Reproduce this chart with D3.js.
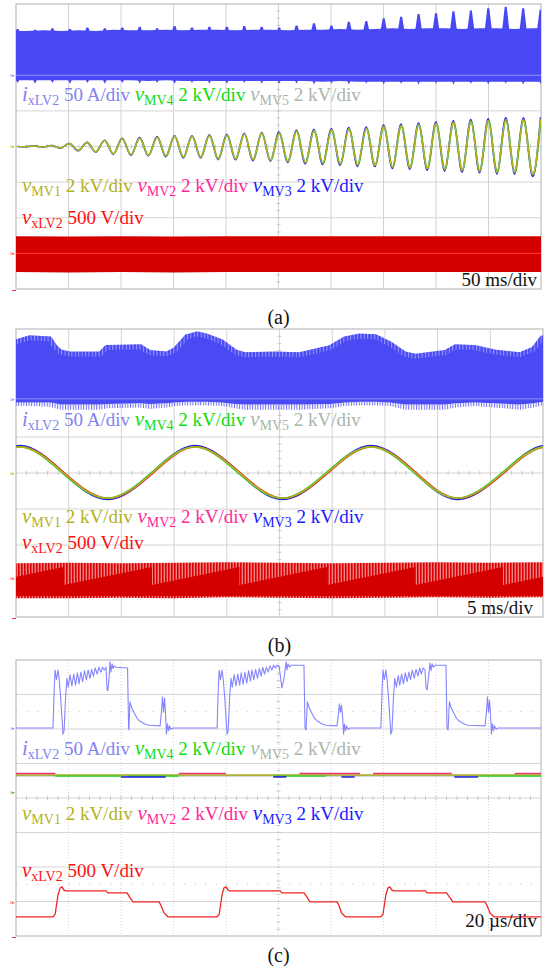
<!DOCTYPE html>
<html>
<head>
<meta charset="utf-8">
<script src="https://d3js.org/d3.v7.min.js"></script>
<style>
  body { margin: 0; background: #fff; }
  svg text { font-family: "Liberation Serif", "Times New Roman", serif; }
</style>
</head>
<body>
<svg id="scope" width="549" height="973"></svg>
<script>

// (a) 50 ms/div : peaks and troughs of the growing 60 Hz oscillation (ms, kV)
const aPeakMs = [1.5, 18.1, 34.7, 51.4, 68.0, 84.6, 101.2, 117.8, 134.4, 151.0,
  167.6, 184.2, 200.8, 217.4, 234.0, 250.6, 267.2, 283.8, 300.4, 317.0,
  333.6, 350.2, 366.8, 383.4, 400.0, 416.6, 433.2, 449.8, 466.4, 483.0, 499.6];
const aTroughMs = [9.8, 26.4, 43.1, 59.7, 76.3, 92.9, 109.5, 126.1, 142.7, 159.3,
  175.9, 192.5, 209.1, 225.7, 242.3, 258.9, 275.5, 292.1, 308.7, 325.3,
  341.9, 358.5, 375.1, 391.7, 408.3, 424.9, 441.5, 458.1, 474.7, 491.3];
const aPeakKV = [0.00, 0.03, 0.05, 0.15, 0.22, 0.33, 0.43, 0.47, 0.52, 0.57,
  0.57, 0.62, 0.64, 0.70, 0.74, 0.76, 0.86, 0.90, 0.94, 1.00,
  1.03, 1.13, 1.18, 1.24, 1.31, 1.36, 1.42, 1.46, 1.52, 1.50, 1.54];
const aTroughKV = [-0.01, -0.03, -0.08, -0.22, -0.29, -0.40, -0.46, -0.49, -0.54, -0.60,
  -0.60, -0.69, -0.70, -0.75, -0.78, -0.84, -0.91, -0.95, -0.99, -1.05,
  -1.06, -1.16, -1.20, -1.25, -1.29, -1.35, -1.39, -1.45, -1.45, -1.50];
// i_xLV2 envelope: spikes at the peaks, band edge at the troughs (A)
const aSpikeTopA = [65, 64, 66, 65, 67, 66, 67, 68, 66, 69,
  67, 68, 68, 69, 68, 67, 70, 73, 70, 75,
  76, 80, 82, 86, 87, 90, 91, 94, 96, 94, 92];
const aEdgeTopA = [62, 63, 62, 63, 62, 64, 63, 63, 64, 63,
  64, 64, 63, 64, 64, 63, 64, 64, 65, 64,
  65, 66, 65, 66, 66, 65, 66, 66, 65, 66];
const aSpikeBotA = [-11, -12, -11, -12, -11, -12, -11, -12, -11, -12,
  -11, -12, -12, -11, -12, -12, -12, -13, -12, -13,
  -12, -13, -12, -13, -12, -13, -12, -13, -12, -13, -12];
const aEdgeBotA = [-7, -7, -7, -7, -7, -7, -7, -8, -7, -8,
  -8, -8, -8, -8, -8, -8, -8, -9, -8, -9,
  -9, -9, -9, -9, -9, -9, -9, -9, -9, -9];
// v_xLV2 envelope (V)
const aRedMs = [0, 50, 100, 150, 200, 250, 300, 350, 400, 450, 500];
const aRedTopV = [239, 236, 239, 236, 239, 242, 239, 242, 239, 242, 239];
const aRedBotV = [-263, -267, -263, -267, -263, -260, -263, -260, -263, -260, -263];

// (b) 5 ms/div
const bBandMs = [0, 1.3, 3.2, 3.7, 4.2, 5.1, 8.0, 8.6, 11.8, 12.7,
  14.3, 15.1, 16.2, 17.2, 18.1, 19.5, 20.8, 21.7, 24.6, 26.9,
  29.8, 31.2, 32.6, 34.1, 35.5, 36.9, 37.9, 40.7, 41.7, 43.5,
  45.4, 47.8, 49.1, 50];
const bBandTopA = [82, 87.5, 86, 75, 68, 65, 65, 74, 75, 67,
  65, 71, 89, 93, 90, 82, 68, 64, 65, 64,
  74, 86, 90, 89, 79, 65, 62, 67, 75, 74,
  68, 64, 72, 89];
const bBandBotA = [-5, -5, -5, -6, -8, -8, -8, -7, -6, -7,
  -6, -5, -4, -4, -4, -5, -7, -8, -8, -8,
  -7, -5, -4, -4, -5, -8, -8, -8, -6, -5,
  -6, -8, -6, -4];
const bSpikeBotA = [-10, -10, -11, -13, -15, -15, -15, -13, -12, -14,
  -12, -10, -9, -9, -9, -10, -13, -15, -15, -15,
  -13, -10, -9, -9, -10, -15, -15, -15, -12, -10,
  -12, -15, -12, -9];
const bSineMs = [-3.8, 0.4, 4.5, 8.7, 12.9, 17.0, 21.2, 25.3, 29.5, 33.7, 37.9, 41.9, 46.2, 50.3, 54.5];
const bSineKV = [0, 1.45, 0, -1.40, 0, 1.45, 0, -1.40, 0, 1.45, 0, -1.40, 0, 1.45, 0];
const bRedMs = [0, 5, 10, 15, 20, 25, 30, 35, 40, 45, 50];
const bRedTopV = [208, 215, 208, 215, 222, 215, 208, 215, 222, 215, 222];
const bRedBotV = [-278, -278, -271, -278, -264, -271, -278, -271, -264, -271, -264];
const bCoreMs = [0, 4.5, 4.5, 12.9, 12.9, 21.2, 21.2, 29.5, 29.5, 37.9, 37.9, 46.2, 46.2, 50];
const bCoreTopV = [18, 153, -97, 153, -97, 153, -97, 153, -97, 153, -97, 153, -97, 18];
const bCoreBotV = [-250, -250, -250, -250, -250, -250, -250, -250, -250, -250, -250, -250, -250, -250];

// (c) 20 us/div : i_xLV2 (us, A)
const cCurrent = [[0,0],[14.1,0],[14.6,60],[14.9,84],[15.4,70],[16.0,84],[16.4,72],[17.0,45],[17.9,-9],[18.3,-5],[18.9,45],[19.4,72],
  [19.9,59],[20.6,77],[21.3,61],[22.0,78],[22.7,62],[23.4,80],[24.0,64],[24.7,81],[25.4,67],[26.1,83],[26.8,70],[27.5,84],[28.2,72],[28.8,85],[29.5,75],[30.2,87],[30.9,78],[31.6,88],[32.3,81],[33.0,88],[33.6,84],[34.3,88],
  [34.7,55],[35.0,54],[35.4,70],[35.8,96],[36.2,81],[36.6,93],[37.0,86],[37.3,90],[38.1,88],[42.5,87],
  [42.9,0],[43.0,-3],[43.4,38],[44.0,30],[45.0,22],[46.1,14],[47.2,10],[48.8,6],[50.7,4],[54.9,3],
  [55.4,23],[55.8,45],[56.2,23],[56.6,43],[57.0,19],[57.3,-9],[57.7,6],[58.1,-4],[58.5,3],[59.0,-2],[59.8,0],
  [76.6,0],[77.1,60],[77.4,84],[77.9,70],[78.5,84],[78.9,72],[79.5,45],[80.4,-9],[80.8,-5],[81.4,45],[81.9,72],
  [82.4,59],[83.1,77],[83.8,61],[84.5,78],[85.2,62],[85.8,80],[86.5,63],[87.2,81],[87.9,65],[88.6,83],[89.3,68],[89.9,84],[90.6,70],[91.3,85],[92.0,72],[92.7,86],[93.4,75],[94.0,88],[94.7,78],[95.4,88],[96.1,81],[96.8,90],[97.5,84],[98.1,91],[98.8,87],[99.5,91],[100.2,90],
  [101.3,58],[102.1,72],[102.9,96],[103.2,84],[103.6,93],[104.2,88],[104.8,91],[109.7,91],
  [110.1,0],[110.5,-3],[111.0,38],[111.6,30],[112.6,22],[113.7,14],[114.9,10],[116.4,6],[118.1,4],[122.3,3],
  [122.9,23],[123.2,35],[123.6,23],[124.0,33],[124.4,17],[124.8,-9],[125.1,6],[125.5,-4],[125.9,3],[126.5,-2],[127.2,0],
  [139.0,0],[139.5,60],[139.8,84],[140.3,70],[140.9,84],[141.3,72],[141.9,45],[142.8,-9],[143.2,-5],[143.8,45],[144.3,72],
  [144.9,59],[145.6,76],[146.2,62],[146.9,78],[147.6,64],[148.3,80],[149.0,67],[149.7,81],[150.3,70],[151.0,84],[151.7,72],[152.4,85],[153.1,75],[153.8,87],[154.4,78],[155.1,87],[155.8,84],
  [156.2,58],[156.6,55],[157.1,72],[157.7,94],[158.1,83],[158.5,93],[159.0,88],[159.6,91],[163.8,91],
  [164.2,0],[164.6,-3],[165.1,38],[165.7,30],[166.7,22],[167.8,14],[168.9,10],[170.5,6],[172.2,4],[178.7,3],
  [179.2,23],[179.6,45],[180.0,23],[180.4,40],[180.8,17],[181.1,-9],[181.5,6],[181.9,-4],[182.3,3],[182.9,-2],[183.6,0],[200,0]];
// v_xLV2 (us, V)
const cVoltLV = [[0,-217],[14.1,-217],[14.9,-180],[16.0,100],[16.8,203],[17.5,217],[18.3,170],[19.0,159],[34.3,159],[35.0,130],[42.3,130],[43.4,60],[44.6,0],[54.5,0],[55.2,-50],[56.4,-160],[57.9,-217],
  [76.6,-217],[77.4,-180],[78.5,100],[79.2,203],[80.0,217],[80.8,170],[81.5,159],[100.6,159],[101.3,130],[109.7,130],[111.0,60],[112.0,0],[122.3,0],[123.0,-50],[124.0,-160],[125.5,-217],
  [139.0,-217],[139.8,-180],[140.9,100],[141.7,203],[142.4,217],[143.2,170],[144.0,159],[156.0,159],[156.6,130],[164.0,130],[165.3,60],[166.4,0],[178.7,0],[179.4,-50],[180.6,-160],[182.0,-217],[200,-217]];
// MV voltages: [start us, end us, kV]
const cMv1 = [[0, 200, 0.99]];
const cMv5 = [[0, 200, 0.96]];
const cMv2 = [[0, 15, 1.08], [62, 80, 1.08], [108, 131, 1.08], [136, 166, 1.08], [190, 200, 1.08]];
const cMv4 = [[15, 40, 0.93], [43, 62, 0.93], [98, 118, 0.93], [176, 200, 0.93]];
const cMv3 = [[40, 57, 0.88], [98, 103, 0.88], [124, 129, 0.88], [167, 176, 0.88]];

// legend rows: [symbol, subscript, scale]
const row1 = [["i", "xLV2", "50 A/div"], ["v", "MV4", "2 kV/div"], ["v", "MV5", "2 kV/div"]];
const row2 = [["v", "MV1", "2 kV/div"], ["v", "MV2", "2 kV/div"], ["v", "MV3", "2 kV/div"]];
const row3 = [["v", "xLV2", "500 V/div"]];

// ---------------- layout / style ----------------
const colors = { xLV2i: "#8282f0", MV4: "#10dc10", MV5: "#a8b6a8", MV1: "#b2b21e", MV2: "#ff2896", MV3: "#1a1aff", xLV2v: "#ff1010" };

const panels = {
  a: { x0: 16, x1: 541, y0: 4, y1: 289, tDiv: 50, tLabel: "50 ms/div", tx: 537, ty: 286, cap: "(a)", capY: 324, rows: [101, 192, 224] },
  b: { x0: 16, x1: 543, y0: 329, y1: 617, tDiv: 5, tLabel: "5 ms/div", tx: 533, ty: 614, cap: "(b)", capY: 652, rows: [426, 523, 549] },
  c: { x0: 16, x1: 541, y0: 660, y1: 936, tDiv: 20, tLabel: "20 µs/div", tx: 537, ty: 927, cap: "(c)", capY: 962, rows: [755, 820, 877], dash: "1,2" }
};

const svg = d3.select("#scope");
const defs = svg.append("defs");

const redHatch = defs.append("pattern").attr("id", "redHatch").attr("patternUnits", "userSpaceOnUse")
  .attr("width", 3).attr("height", 6);
redHatch.append("rect").attr("width", 3).attr("height", 6).attr("fill", "#f08080");
redHatch.append("rect").attr("width", 1.6).attr("height", 6).attr("fill", "#d80000");

const blueHatch = defs.append("pattern").attr("id", "blueHatch").attr("patternUnits", "userSpaceOnUse")
  .attr("width", 2.6).attr("height", 6);
blueHatch.append("rect").attr("width", 1).attr("height", 6).attr("fill", "#6a6af8");

const lightHatch = defs.append("pattern").attr("id", "lightHatch").attr("patternUnits", "userSpaceOnUse")
  .attr("width", 3.4).attr("height", 8);
lightHatch.append("rect").attr("width", 3.4).attr("height", 8).attr("fill", "#4a4af4");
lightHatch.append("rect").attr("width", 1).attr("height", 8).attr("fill", "#9a9aff");

// channel scale: value 0 sits offsetDiv divisions above the screen centre
function chan(p, perDiv, offsetDiv) {
  const divH = (p.y1 - p.y0) / 8, mid = (p.y0 + p.y1) / 2, y0 = mid - offsetDiv * divH;
  return d3.scaleLinear().domain([0, perDiv]).range([y0, y0 - divH]);
}

function frame(p, key) {
  const g = svg.append("g");
  const gx = d3.scaleLinear().domain([0, 10]).range([p.x0, p.x1]);
  const gy = d3.scaleLinear().domain([-4, 4]).range([p.y1, p.y0]);
  g.selectAll("line.v").data(d3.range(1, 10)).join("line")
    .attr("x1", d => gx(d)).attr("x2", d => gx(d)).attr("y1", p.y0).attr("y2", p.y1)
    .attr("stroke", "#d4d4d4").attr("stroke-width", 1).attr("stroke-dasharray", p.dash || null);
  g.selectAll("line.h").data(d3.range(-3, 4)).join("line")
    .attr("x1", p.x0).attr("x2", p.x1).attr("y1", d => gy(d)).attr("y2", d => gy(d))
    .attr("stroke", "#d4d4d4").attr("stroke-width", 1);
  if (p.dash) {
    g.selectAll("line.dot").data([2.5, -2.5]).join("line")
      .attr("x1", p.x0).attr("x2", p.x1).attr("y1", d => gy(d)).attr("y2", d => gy(d))
      .attr("stroke", "#c4c4c4").attr("stroke-dasharray", "1.2,9.3");
  }
  // minor ticks on the centre cross
  g.selectAll("line.tx").data(d3.range(1, 50)).join("line")
    .attr("x1", d => gx(d / 5)).attr("x2", d => gx(d / 5)).attr("y1", gy(0) - 2).attr("y2", gy(0) + 2)
    .attr("stroke", "#c8c8c8");
  g.selectAll("line.ty").data(d3.range(1, 40)).join("line")
    .attr("y1", d => gy(-4 + d / 5)).attr("y2", d => gy(-4 + d / 5)).attr("x1", gx(5) - 2).attr("x2", gx(5) + 2)
    .attr("stroke", "#c8c8c8");
  g.append("rect").attr("x", p.x0).attr("y", p.y0).attr("width", p.x1 - p.x0).attr("height", p.y1 - p.y0)
    .attr("fill", "none").attr("stroke", "#bcbcbc").attr("stroke-width", 1.2);
  g.append("line").attr("x1", p.x0 - 4).attr("x2", p.x0).attr("y1", p.y1 + 1.5).attr("y2", p.y1 + 1.5)
    .attr("stroke", "#e04040").attr("stroke-width", 1);
  defs.append("clipPath").attr("id", "clip" + key).append("rect")
    .attr("x", p.x0).attr("y", p.y0).attr("width", p.x1 - p.x0).attr("height", p.y1 - p.y0);
  return svg.append("g").attr("clip-path", "url(#clip" + key + ")");
}

// small channel reference tags at the left edge
function marker(p, y, color) {
  svg.append("text").attr("x", p.x0 - 1).attr("y", y + 1.8).attr("text-anchor", "end")
    .attr("font-size", 5).attr("fill", color).text("1▸");
}

function labels(p) {
  [row1, row2, row3].forEach((row, r) => {
    const t = svg.append("text").attr("x", p.x0 + 6).attr("y", p.rows[r]);
    row.forEach((it, i) => {
      const c = colors[it[1] === "xLV2" ? (it[0] === "i" ? "xLV2i" : "xLV2v") : it[1]];
      if (i) t.append("tspan").attr("font-size", 19).text(" ");
      t.append("tspan").attr("font-style", "italic").attr("font-size", 21).attr("fill", c).text(it[0]);
      t.append("tspan").attr("font-size", 14).attr("dy", 4).attr("fill", c).text(it[1]);
      t.append("tspan").attr("font-size", 19).attr("dy", -4).attr("fill", c).text(" " + it[2]);
    });
  });
  svg.append("text").attr("x", p.tx).attr("y", p.ty).attr("text-anchor", "end")
    .attr("font-size", 19).attr("fill", "#111").text(p.tLabel);
  svg.append("text").attr("x", (p.x0 + p.x1) / 2).attr("y", p.capY).attr("text-anchor", "middle")
    .attr("font-size", 20).attr("fill", "#111").text(p.cap);
}

// ---------------- (a) ----------------
const pa = panels.a;
const xa = d3.scaleLinear().domain([0, 10 * pa.tDiv]).range([pa.x0, pa.x1]);
const yaI = chan(pa, 50, 2.0), yaM = chan(pa, 2, 0), yaL = chan(pa, 500, -3.0);
const ga = frame(pa, "a");
// band edge between troughs, carried to both screen edges
const aEdge = aTroughMs.map((t, i) => ({ t, top: aEdgeTopA[i], bot: aEdgeBotA[i] }));
const aEdgeFull = [{ ...aEdge[0], t: 0 }, ...aEdge, { ...aEdge[aEdge.length - 1], t: 10 * pa.tDiv }];
ga.append("path").datum(aEdgeFull).attr("fill", "#4848f4")
  .attr("d", d3.area().x(d => xa(d.t)).y0(d => yaI(d.bot)).y1(d => yaI(d.top)));
// narrow spikes on both edges at the oscillation peaks
const aSpikes = aPeakMs.map((t, i) => ({ t, top: aSpikeTopA[i], bot: aSpikeBotA[i] }));
ga.selectAll("path.st").data(aSpikes).join("path").attr("fill", "#4848f4")
  .attr("d", d => `M${xa(d.t) - 4.5},${yaI(52)}L${xa(d.t) - 1},${yaI(d.top)}L${xa(d.t) + 1},${yaI(d.top)}L${xa(d.t) + 4.5},${yaI(52)}Z`);
ga.selectAll("path.sb").data(aSpikes).join("path").attr("fill", "#4848f4")
  .attr("d", d => `M${xa(d.t) - 3},${yaI(-3)}L${xa(d.t)},${yaI(d.bot)}L${xa(d.t) + 3},${yaI(-3)}Z`);
ga.append("line").attr("x1", pa.x0).attr("x2", pa.x1).attr("y1", yaI(0)).attr("y2", yaI(0))
  .attr("stroke", "#9090ff").attr("stroke-width", 1.2);
// oscillation: peaks and troughs in time order
const aRows = d3.merge(aPeakMs.map((t, i) => i < aTroughMs.length
  ? [{ t, kv: aPeakKV[i] }, { t: aTroughMs[i], kv: aTroughKV[i] }]
  : [{ t, kv: aPeakKV[i] }]));
const aSine = d3.line().x(d => xa(d.t)).y(d => yaM(d.kv)).curve(d3.curveNatural);
const cyA = yaM(0);
ga.append("path").datum(aRows).attr("d", aSine).attr("fill", "none").attr("stroke", "#2222e6").attr("stroke-width", 1.6)
  .attr("transform", `translate(0,${cyA}) scale(1,1.06) translate(0,${-cyA})`);
ga.append("path").datum(aRows).attr("d", aSine).attr("fill", "none").attr("stroke", "#38c038").attr("stroke-width", 1)
  .attr("transform", "translate(0.6,0)");
ga.append("path").datum(aRows).attr("d", aSine).attr("fill", "none").attr("stroke", "#b4b41e").attr("stroke-width", 1.5);
const aRed = aRedMs.map((t, i) => ({ t, top: aRedTopV[i], bot: aRedBotV[i] }));
ga.append("path").datum(aRed).attr("fill", "#d40000")
  .attr("d", d3.area().x(d => xa(d.t)).y0(d => yaL(d.bot)).y1(d => yaL(d.top)));
ga.append("line").attr("x1", pa.x0).attr("x2", pa.x1).attr("y1", yaL(0)).attr("y2", yaL(0))
  .attr("stroke", "#ff3a3a").attr("stroke-width", 1);
marker(pa, yaI(0), "#8080f0");
marker(pa, yaM(0), "#b2b21e");
marker(pa, yaL(0), "#ff3030");
labels(pa);

// ---------------- (b) ----------------
const pb = panels.b;
const xb = d3.scaleLinear().domain([0, 10 * pb.tDiv]).range([pb.x0, pb.x1]);
const ybI = chan(pb, 50, 2.06), ybM = chan(pb, 2, 0), ybL = chan(pb, 500, -2.92);
const gb = frame(pb, "b");
const bRows = bBandMs.map((t, i) => ({ t, top: bBandTopA[i], bot: bBandBotA[i], spike: bSpikeBotA[i] }));
gb.append("path").datum(bRows).attr("fill", "url(#blueHatch)")
  .attr("d", d3.area().x(d => xb(d.t)).y0(d => ybI(d.spike)).y1(d => ybI(d.bot)));
gb.append("path").datum(bRows).attr("fill", "#4a4af4")
  .attr("d", d3.area().x(d => xb(d.t)).y0(d => ybI(d.bot)).y1(d => ybI(d.top)));
gb.append("path").datum(bRows).attr("fill", "none").attr("stroke", "url(#lightHatch)").attr("stroke-width", 5)
  .attr("d", d3.line().x(d => xb(d.t)).y(d => ybI(d.top) + 2));
gb.append("line").attr("x1", pb.x0).attr("x2", pb.x1).attr("y1", ybI(0)).attr("y2", ybI(0))
  .attr("stroke", "#8a8aff").attr("stroke-width", 1);
const bSine = bSineMs.map((t, i) => ({ t, kv: bSineKV[i] }));
const bLine = d3.line().x(d => xb(d.t)).y(d => ybM(d.kv)).curve(d3.curveNatural);
const cyB = ybM(0);
gb.append("path").datum(bSine).attr("d", bLine).attr("fill", "none").attr("stroke", "#2020e0").attr("stroke-width", 2)
  .attr("transform", `translate(0,${cyB}) scale(1,1.04) translate(0,${-cyB})`);
gb.append("path").datum(bSine).attr("d", bLine).attr("fill", "none").attr("stroke", "#e83030").attr("stroke-width", 1.4)
  .attr("transform", "translate(1.2,0)");
gb.append("path").datum(bSine).attr("d", bLine).attr("fill", "none").attr("stroke", "#30c830").attr("stroke-width", 1.4)
  .attr("transform", "translate(-1.2,0)");
gb.append("path").datum(bSine).attr("d", bLine).attr("fill", "none").attr("stroke", "#b0b020").attr("stroke-width", 1.6);
const bRed = bRedMs.map((t, i) => ({ t, top: bRedTopV[i], bot: bRedBotV[i] }));
gb.append("path").datum(bRed).attr("fill", "url(#redHatch)")
  .attr("d", d3.area().x(d => xb(d.t)).y0(d => ybL(d.bot)).y1(d => ybL(d.top)));
const bCore = bCoreMs.map((t, i) => ({ t, top: bCoreTopV[i], bot: bCoreBotV[i] }));
gb.append("path").datum(bCore).attr("fill", "#d40000")
  .attr("d", d3.area().x(d => xb(d.t)).y0(d => ybL(d.bot)).y1(d => ybL(d.top)));
marker(pb, ybI(0), "#8080f0");
marker(pb, ybM(0), "#b2b21e");
marker(pb, ybL(0), "#ff3030");
labels(pb);

// ---------------- (c) ----------------
const pc = panels.c;
const xc = d3.scaleLinear().domain([0, 10 * pc.tDiv]).range([pc.x0, pc.x1]);
const ycI = chan(pc, 50, 2.03), ycM = chan(pc, 2, 0.17), ycL = chan(pc, 500, -3.01);
const gc = frame(pc, "c");
const seg = (g, spans, color, w) => g.selectAll(null).data(spans).join("line")
  .attr("x1", d => xc(d[0])).attr("x2", d => xc(d[1])).attr("y1", d => ycM(d[2])).attr("y2", d => ycM(d[2]))
  .attr("stroke", color).attr("stroke-width", w);
seg(gc, cMv5, "#a8b6a8", 1.6);
seg(gc, cMv1, "#b2b21e", 1.4);
seg(gc, cMv4, "#20d820", 1.4);
seg(gc, cMv3, "#1a1ae0", 1.5);
seg(gc, cMv2, "#f0307a", 1.4);
gc.append("path").datum(cCurrent).attr("fill", "none").attr("stroke", "#8585ff").attr("stroke-width", 1.1)
  .attr("stroke-linejoin", "round")
  .attr("d", d3.line().x(d => xc(d[0])).y(d => ycI(d[1])));
gc.append("path").datum(cVoltLV).attr("fill", "none").attr("stroke", "#f22424").attr("stroke-width", 1.3)
  .attr("d", d3.line().x(d => xc(d[0])).y(d => ycL(d[1])));
marker(pc, ycI(0), "#8080f0");
marker(pc, ycM(0), "#40a040");
marker(pc, ycL(0), "#ff3030");
labels(pc);
</script>
</body>
</html>
